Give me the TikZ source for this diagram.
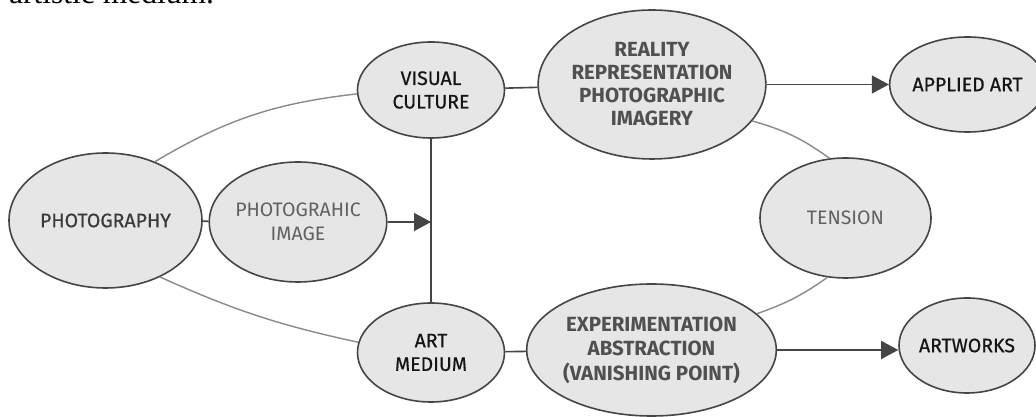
\documentclass[tikz,border=0pt]{standalone}
\usepackage{fontspec}
\setmainfont{Fira Sans}
\newfontfamily\medfont[FakeBold=0.6]{Fira Sans}
\newfontfamily\seriffont{Liberation Serif}
\usetikzlibrary{shapes.geometric,arrows.meta}
\definecolor{ellfill}{HTML}{E6E6E6}
\definecolor{edge}{HTML}{454545}
\definecolor{ring}{HTML}{8A8A8A}
\definecolor{txtdark}{HTML}{3A3A3A}
\definecolor{txtlight}{HTML}{606060}
\definecolor{txtbold}{HTML}{505050}
\definecolor{txtblack}{HTML}{151515}
\tikzset{
  x=1pt, y=1pt,
  ell/.style={ellipse, draw=edge, line width=1.6pt, fill=ellfill, inner sep=0pt, align=center,
    font=\fontsize{19.5}{23.5}\selectfont},
  med/.style={font=\medfont\fontsize{19.5}{23.5}\selectfont},
  boldtxt/.style={text=txtbold, font=\bfseries\fontsize{20.5}{23}\selectfont},
  link/.style={draw=edge, line width=1.6pt},
  arrowlink/.style={draw=edge, line width=1.6pt, -{Triangle[length=17pt,width=18pt]}},
  ringline/.style={draw=ring, line width=1.4pt},
}
\begin{document}
\begin{tikzpicture}
\clip (0,0) rectangle (1036,417);
\fill[white] (0,0) rectangle (1036,417);
\node[anchor=base west, inner sep=0pt, font=\seriffont\fontsize{31.5}{36}\selectfont] (top) at (9,413) {artistic medium.};

\node[ell, med, minimum width=193pt, minimum height=135pt, text=txtdark] (photo) at (105.5,196.5) {PHOTOGRAPHY};
\node[ell, minimum width=172pt, minimum height=120pt, text=txtlight] (pimg) at (298,195) {PHOTOGRAHIC\\IMAGE};
\node[ell, med, minimum width=147pt, minimum height=96pt, text=txtblack] (visual) at (431,327) {VISUAL\\CULTURE};
\node[ell, med, minimum width=147pt, minimum height=99pt, text=txtblack] (art) at (431,64.5) {ART\\MEDIUM};
\node[ell, boldtxt, minimum width=220pt, minimum height=149pt] (reality) at (652,332.5) {REALITY\\REPRESENTATION\\PHOTOGRAPHIC\\IMAGERY};
\node[ell, boldtxt, minimum width=233pt, minimum height=132pt, font=\bfseries\fontsize{20.5}{24.5}\selectfont] (exp) at (651.5,67) {EXPERIMENTATION\\ABSTRACTION\\(VANISHING POINT)};
\node[ell, minimum width=171pt, minimum height=120pt, text=txtlight] (tension) at (845.5,199) {TENSION};
\node[ell, med, minimum width=135pt, minimum height=95pt, text=txtblack] (applied) at (967.5,332.5) {APPLIED ART};
\node[ell, med, minimum width=136pt, minimum height=95pt, text=txtblack] (artworks) at (967,71.5) {ARTWORKS};

% ring segments
\draw[ringline] (photo.50) to[bend left=12] (visual.183);
\draw[ringline] (photo.-46) to[bend right=6] (art.172);
\draw[ringline] (reality.-20) to[bend left=10] (tension.105);
\draw[ringline] (tension.-107) to[bend left=8] (exp.19);

% connectors
\draw[link] (photo) -- (pimg);
\draw[link] (visual.south) -- (art.north);
\draw[arrowlink] (pimg.east) -- (pimg.east -| visual.south);
\draw[link] (visual) -- (reality);
\draw[link] (art) -- (exp);
\draw[arrowlink] (reality.east) -- (reality.east -| applied.west);
\draw[arrowlink] (exp.east) -- (exp.east -| artworks.west);
\end{tikzpicture}
\end{document}
